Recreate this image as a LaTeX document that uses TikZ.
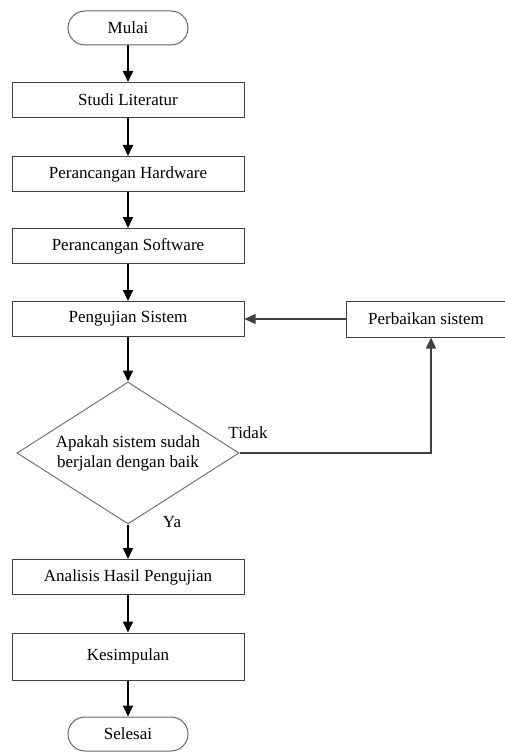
\documentclass[tikz,border=0pt]{standalone}
\usepackage{fontspec}
\setmainfont{Liberation Serif}
\usetikzlibrary{shapes.geometric,arrows.meta}
\begin{document}
\begin{tikzpicture}[x=1pt,y=-1pt,
  every node/.style={font=\fontsize{17}{20}\selectfont},
  procbox/.style={draw=black!75,line width=1pt,minimum width=232pt,minimum height=35pt,inner sep=0pt},
  term/.style={draw=black!60,line width=1pt,rounded corners=17pt,minimum width=120pt,minimum height=34pt,inner sep=0pt},
  decis/.style={draw=black!55,line width=1pt,diamond,minimum width=222pt,minimum height=142pt,inner sep=0pt,aspect=1.56,align=center},
  flow/.style={line width=1.8pt,-{Triangle[length=11pt,width=10pt]}},
  back/.style={draw=black!75,line width=1.3pt,-{Triangle[length=11pt,width=10pt]}},
  lbl/.style={inner sep=0pt}]
\useasboundingbox (0,0) rectangle (504,754);
\node[term] (mulai) at (128,28) {Mulai};
\node[procbox] (studi) at (128,100) {Studi Literatur};
\node[procbox] (hw) at (128,174) {Perancangan Hardware};
\node[procbox] (sw) at (128,246) {Perancangan Software};
\node[procbox] (uji) at (128,319) {Pengujian Sistem};
\node[draw=black!75,line width=1pt,minimum width=160pt,minimum height=36pt,inner sep=0pt] (perb) at (426,319) {Perbaikan sistem};
\node[decis] (dec) at (128,453) {Apakah sistem sudah\\berjalan dengan baik};
\node[procbox] (anal) at (128,577) {Analisis Hasil Pengujian};
\node[procbox,minimum height=47pt] (kes) at (128,656.5) {Kesimpulan};
\node[term] (sel) at (128,734) {Selesai};
\draw[flow] (mulai) -- (studi);
\draw[flow] (studi) -- (hw);
\draw[flow] (hw) -- (sw);
\draw[flow] (sw) -- (uji);
\draw[flow] (uji) -- (dec.north);
\draw[flow] (dec.south) -- (anal);
\draw[flow] (anal) -- (kes);
\draw[flow] (kes) -- (sel);
\coordinate (corner) at (431,453);
\draw[back] (dec.east) -- (corner) -- (perb.south -| corner);
\draw[back] (perb) -- (uji);
\node[lbl] (tidak) at (248,433) {Tidak};
\node[lbl] (ya) at (172,522) {Ya};
\end{tikzpicture}
\end{document}
